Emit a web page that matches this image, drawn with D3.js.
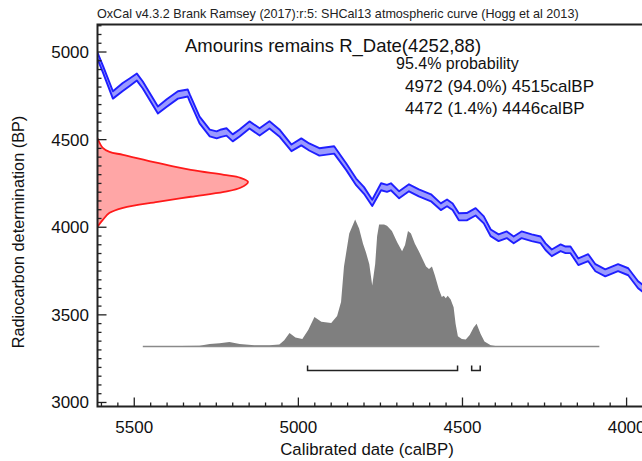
<!DOCTYPE html>
<html>
<head>
<meta charset="utf-8">
<script src="https://cdn.jsdelivr.net/npm/d3@7"></script>
<style>
  html, body { margin: 0; padding: 0; background: #fff; }
  svg { display: block; font-family: "Liberation Sans", Arial, Helvetica, sans-serif; }
</style>
</head>
<body>
<svg id="chart" width="642" height="461"></svg>
<script>
// ---------------- DATA ----------------
const headerText = "OxCal v4.3.2 Brank Ramsey (2017):r:5: SHCal13 atmospheric curve (Hogg et al 2013)";
const sampleTitle = "Amourins remains R_Date(4252,88)";
const rangeLines = ["95.4% probability", "4972 (94.0%) 4515calBP", "4472 (1.4%) 4446calBP"];
const xAxisTitle = "Calibrated date (calBP)";
const yAxisTitle = "Radiocarbon determination (BP)";

const xMajorTicks = [5500, 5000, 4500, 4000];
const yMajorTicks = [5000, 4500, 4000, 3500, 3000];

// calibration curve (SHCal13): cal BP, 14C BP, 1-sigma
const curveCal   = [5612, 5595, 5565, 5535, 5513, 5492, 5474, 5428, 5401, 5367, 5337, 5331, 5301, 5270, 5249, 5235, 5219, 5200, 5179, 5149, 5118, 5088, 5058, 5021, 4991, 4967, 4936, 4891, 4854, 4824, 4800, 4775, 4748, 4730, 4718, 4693, 4663, 4633, 4596, 4566, 4547, 4530, 4511, 4487, 4460, 4435, 4414, 4390, 4365, 4344, 4320, 4289, 4262, 4247, 4228, 4201, 4186, 4171, 4147, 4117, 4095, 4065, 4026, 3995, 3965, 3950];
const curveC14   = [4978, 4900, 4755, 4800, 4829, 4857, 4812, 4669, 4709, 4755, 4766, 4738, 4612, 4538, 4527, 4537, 4544, 4510, 4538, 4584, 4544, 4584, 4538, 4453, 4487, 4458, 4430, 4441, 4345, 4259, 4210, 4139, 4231, 4222, 4231, 4185, 4225, 4196, 4168, 4117, 4139, 4117, 4060, 4060, 4088, 4042, 3968, 3940, 3957, 3928, 3957, 3940, 3928, 3889, 3854, 3883, 3871, 3871, 3803, 3826, 3769, 3740, 3769, 3746, 3672, 3650];
const curveSigma = [18, 19, 21, 23, 21, 20, 20, 20, 21, 21, 20, 20, 19, 19, 20, 21, 21, 20, 20, 20, 21, 21, 20, 19, 20, 20, 21, 21, 19, 19, 19, 18, 20, 20, 20, 20, 20, 20, 20, 19, 19, 19, 20, 21, 21, 20, 19, 19, 19, 19, 19, 19, 19, 19, 19, 19, 19, 19, 19, 20, 20, 20, 20, 20, 20, 20];

// radiocarbon date likelihood (red, on the y axis): 14C BP, relative density
const rdateBP      = [4508, 4453, 4430, 4413, 4367, 4327, 4299, 4282, 4259, 4225, 4202, 4174, 4145, 4111, 4082, 4042, 4003];
const rdateDensity = [0.0, 0.035, 0.08, 0.17, 0.40, 0.62, 0.84, 0.95, 1.0, 0.95, 0.84, 0.62, 0.40, 0.17, 0.08, 0.035, 0.0];

// calibrated probability (grey): cal BP, relative density
const probCal     = [5474, 5301, 5270, 5240, 5210, 5179, 5134, 5088, 5058, 5043, 5027, 5009, 4988, 4970, 4951, 4930, 4900, 4882, 4870, 4861, 4845, 4827, 4815, 4803, 4794, 4784, 4775, 4766, 4760, 4754, 4739, 4730, 4715, 4699, 4684, 4675, 4666, 4657, 4645, 4633, 4620, 4611, 4602, 4593, 4584, 4572, 4563, 4557, 4551, 4545, 4536, 4527, 4521, 4514, 4502, 4490, 4478, 4466, 4457, 4445, 4433, 4414, 4390, 4083];
const probDensity = [0.0, 0.005, 0.02, 0.025, 0.035, 0.02, 0.01, 0.01, 0.015, 0.05, 0.107, 0.07, 0.06, 0.13, 0.233, 0.194, 0.186, 0.24, 0.35, 0.63, 0.89, 1.0, 0.93, 0.81, 0.74, 0.65, 0.48, 0.65, 0.87, 0.96, 0.96, 0.95, 0.91, 0.82, 0.75, 0.80, 0.91, 0.89, 0.81, 0.75, 0.68, 0.63, 0.61, 0.63, 0.56, 0.45, 0.39, 0.40, 0.38, 0.40, 0.37, 0.31, 0.18, 0.08, 0.06, 0.055, 0.09, 0.15, 0.18, 0.10, 0.04, 0.01, 0.0, 0.0];

// 95.4% ranges (cal BP)
const rangeFrom = [4972, 4472];
const rangeTo   = [4515, 4446];

// ---------------- CHART ----------------
const svg = d3.select("#chart");
const padL = 97.5, padT = 24.5, padB = 406.5, padR = 643;

const x = d3.scaleLinear().domain([5612, 3950]).range([padL, padR]);
const y = d3.scaleLinear().domain([2977, 5157]).range([padB, padT]);
const redW = d3.scaleLinear().domain([0, 1]).range([padL, 248]);
const probY = d3.scaleLinear().domain([0, 1]).range([346.5, 219.5]);

svg.append("defs").append("clipPath").attr("id", "plotclip")
  .append("rect").attr("x", padL).attr("y", padT).attr("width", padR - padL).attr("height", padB - padT);

const plot = svg.append("g").attr("clip-path", "url(#plotclip)");

// calibration curve band
const curveData = curveCal.map((c, i) => ({ c, v: curveC14[i], s: curveSigma[i] }));
plot.append("path")
  .datum(curveData)
  .attr("d", d3.area().x(d => x(d.c)).y0(d => y(d.v - d.s)).y1(d => y(d.v + d.s)).curve(d3.curveLinear))
  .attr("fill", "#9a9aff");
["upper", "lower"].forEach((k, j) => {
  plot.append("path")
    .datum(curveData)
    .attr("d", d3.line().x(d => x(d.c)).y(d => y(j === 0 ? d.v + d.s : d.v - d.s)).curve(d3.curveLinear))
    .attr("fill", "none").attr("stroke", "#1f1fff").attr("stroke-width", 1.9).attr("stroke-linejoin", "round");
});

// red R_Date likelihood
const redData = rdateBP.map((b, i) => ({ b, d: rdateDensity[i] }));
plot.append("path")
  .datum(redData)
  .attr("d", d3.area().y(d => y(d.b)).x0(padL).x1(d => redW(d.d)).curve(d3.curveCatmullRom))
  .attr("fill", "#ffa6a6");
plot.append("path")
  .datum(redData)
  .attr("d", d3.line().y(d => y(d.b)).x(d => redW(d.d)).curve(d3.curveCatmullRom))
  .attr("fill", "none").attr("stroke", "#ff1a1a").attr("stroke-width", 1.8);

// grey calibrated distribution
const probData = probCal.map((c, i) => ({ c, d: probDensity[i] }));
plot.append("path")
  .datum(probData)
  .attr("d", d3.area().x(d => x(d.c)).y0(probY(0)).y1(d => probY(d.d)).curve(d3.curveLinear))
  .attr("fill", "#7f7f7f");
plot.append("line")
  .attr("x1", x(probCal[0])).attr("x2", x(probCal[probCal.length - 1]))
  .attr("y1", probY(0)).attr("y2", probY(0))
  .attr("stroke", "#8a8a8a").attr("stroke-width", 1.5);

// range brackets
const bracketY = 370.5, bracketH = 5;
rangeFrom.forEach((f, i) => {
  const x1 = x(f), x2 = x(rangeTo[i]);
  plot.append("path")
    .attr("d", `M${x1},${bracketY - bracketH}V${bracketY}H${x2}V${bracketY - bracketH}`)
    .attr("fill", "none").attr("stroke", "#222").attr("stroke-width", 1.5);
});

// axes frame
const axisColor = "#222";
svg.append("path")
  .attr("d", `M${padR + 5},${padT}H${padL}V${padB}H${padR + 5}`)
  .attr("fill", "none").attr("stroke", axisColor).attr("stroke-width", 2);

// x ticks (inward)
const xMinor = d3.range(5600, 3949, -50);
svg.append("g").selectAll("line").data(xMinor).join("line")
  .attr("x1", d => x(d)).attr("x2", d => x(d))
  .attr("y1", padB).attr("y2", d => padB - (xMajorTicks.includes(d) ? 9 : 4))
  .attr("stroke", axisColor).attr("stroke-width", 1.3);
svg.append("g").selectAll("text").data(xMajorTicks).join("text")
  .attr("x", d => x(d)).attr("y", 433)
  .attr("text-anchor", "middle").attr("font-size", 17).attr("fill", "#111")
  .text(d => d);

// y ticks (inward)
const yMinor = d3.range(3000, 5151, 50);
svg.append("g").selectAll("line").data(yMinor).join("line")
  .attr("y1", d => y(d)).attr("y2", d => y(d))
  .attr("x1", padL).attr("x2", d => padL + (yMajorTicks.includes(d) ? 9 : 4))
  .attr("stroke", axisColor).attr("stroke-width", 1.3);
svg.append("g").selectAll("text").data(yMajorTicks).join("text")
  .attr("x", 89).attr("y", d => y(d) + 6)
  .attr("text-anchor", "end").attr("font-size", 17).attr("fill", "#111")
  .text(d => d);

// titles
svg.append("text").attr("x", 97).attr("y", 18).attr("font-size", 12.6).attr("fill", "#222").text(headerText);
svg.append("text").attr("x", 333).attr("y", 52).attr("text-anchor", "middle").attr("font-size", 18.5).attr("fill", "#111").text(sampleTitle);
const rangeX = [396, 405, 405], rangeYs = [69, 92, 114], rangeSize = [16, 17, 17];
rangeLines.forEach((t, i) => {
  svg.append("text").attr("x", rangeX[i]).attr("y", rangeYs[i]).attr("font-size", rangeSize[i]).attr("fill", "#111").text(t);
});
svg.append("text").attr("x", 367).attr("y", 455).attr("text-anchor", "middle").attr("font-size", 16.8).attr("fill", "#111").text(xAxisTitle);
svg.append("text").attr("transform", "translate(24,232) rotate(-90)").attr("text-anchor", "middle").attr("font-size", 16.3).attr("fill", "#111").text(yAxisTitle);
</script>
</body>
</html>
